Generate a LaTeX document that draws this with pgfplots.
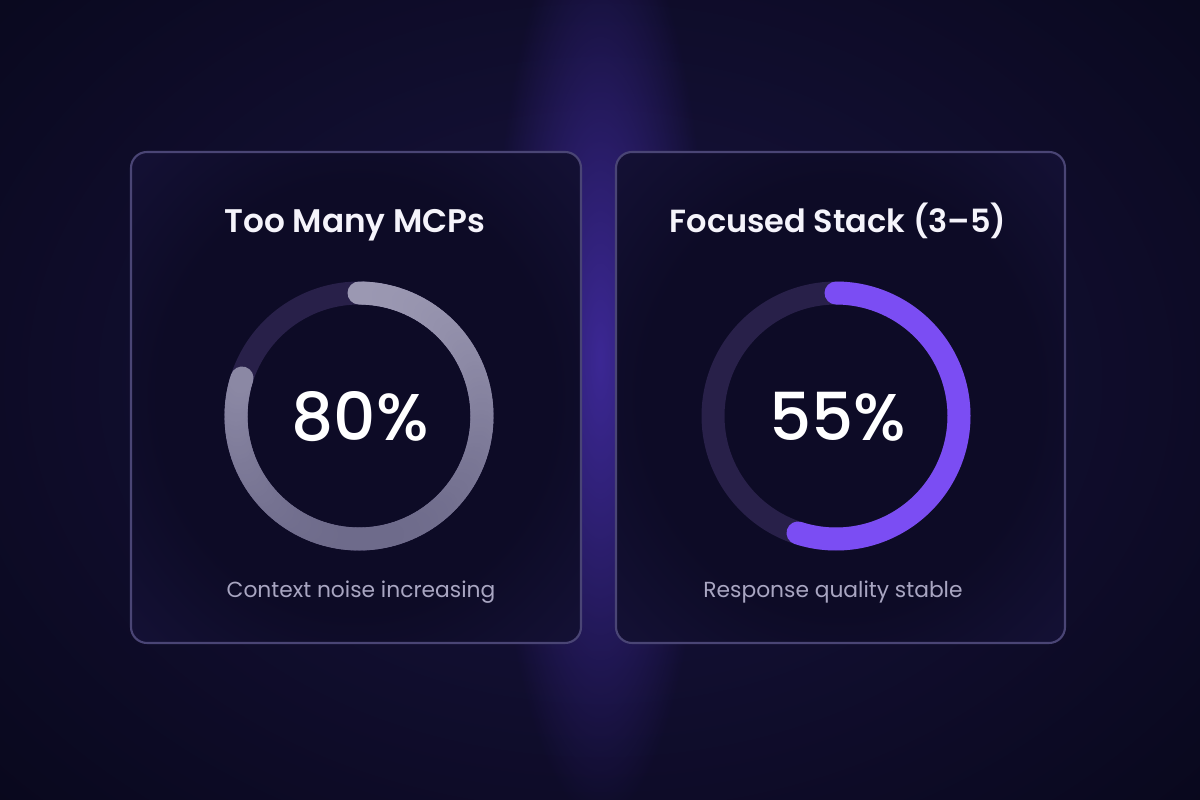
\documentclass[border=0pt]{standalone}
\usepackage{pgfplots}
\pgfplotsset{compat=1.18}
\usepackage{fontspec}
\setmainfont{Poppins}
\newfontfamily\titlefont{Poppins SemiBold}
\newfontfamily\numfont{Poppins Medium}
\usetikzlibrary{fadings}
\tikzfading[name=glowfade, inner color=transparent!0, outer color=transparent!100]
\definecolor{bg}{HTML}{060616}
\definecolor{glowA}{HTML}{191440}
\definecolor{glowB}{HTML}{3E2999}
\definecolor{cardin}{HTML}{0D0B26}
\definecolor{cardout}{HTML}{1C1746}
\definecolor{cardedge}{HTML}{4A4575}
\definecolor{track}{HTML}{282049}
\definecolor{greytop}{HTML}{9B98B2}
\definecolor{greybot}{HTML}{6E6B8B}
\definecolor{purplearc}{HTML}{7B4DF3}
\definecolor{subtext}{HTML}{A9A6C2}
\definecolor{titletext}{HTML}{F5F4FB}
\pgfdeclareradialshading{cardshade}{\pgfpoint{0bp}{0bp}}{color(0bp)=(cardin); color(22bp)=(cardin); color(50bp)=(cardout); color(72bp)=(cardout)}
% gauge values (percent)
\def\valA{80}
\def\valB{55}
\begin{document}
\begin{tikzpicture}
\fill[bg] (0,0) rectangle (12,8);
\begin{scope}
\clip (0,0) rectangle (12,8);
\fill[glowA, path fading=glowfade] (6,4.2) ellipse [x radius=10cm, y radius=7.5cm];
\fill[glowB, path fading=glowfade, opacity=0.95] (6,4.4) ellipse [x radius=1.1cm, y radius=4.6cm];
\end{scope}
% cards
\shade[shading=cardshade, rounded corners=0.16cm] (1.31,1.57) rectangle (5.81,6.48);
\shade[shading=cardshade, rounded corners=0.16cm] (6.16,1.57) rectangle (10.65,6.48);
\draw[cardedge, line width=0.6pt, rounded corners=0.16cm] (1.31,1.57) rectangle (5.81,6.48);
\draw[cardedge, line width=0.6pt, rounded corners=0.16cm] (6.16,1.57) rectangle (10.65,6.48);
\begin{axis}[at={(0,0)}, anchor=south west, width=12cm, height=8cm, scale only axis,
  xmin=0, xmax=1200, ymin=0, ymax=800, y dir=reverse, hide axis, clip=false,
  colormap={greymap}{color=(greytop) color=(greybot)}]
% left gauge
\addplot[track, line width=0.23cm, samples=181, domain=0:360, smooth] ({359+123*sin(x)}, {416-123*cos(x)});
\addplot[mesh, point meta=y, line width=0.23cm, line cap=round, samples=150, domain=0:{3.6*\valA}] ({359+123*sin(x)}, {416-123*cos(x)});
% right gauge
\addplot[track, line width=0.23cm, samples=181, domain=0:360, smooth] ({836+123*sin(x)}, {416-123*cos(x)});
\addplot[purplearc, line width=0.23cm, line cap=round, samples=120, domain=0:{3.6*\valB}, smooth] ({836+123*sin(x)}, {416-123*cos(x)});
% texts
\node[anchor=base, text=titletext, font=\titlefont\fontsize{9.3}{10}\selectfont] at (axis cs:355,232) {Too Many MCPs};
\node[anchor=base, text=titletext, font=\titlefont\fontsize{9.1}{10}\selectfont] at (axis cs:838,232) {Focused Stack (3–5)};
\node[anchor=base, text=white, font=\numfont\fontsize{18.8}{20}\selectfont] at (axis cs:360,440) {80\%};
\node[anchor=base, text=white, font=\numfont\fontsize{18.8}{20}\selectfont] at (axis cs:838,440) {55\%};
\node[anchor=base, text=subtext, font=\fontsize{6.2}{7}\selectfont] at (axis cs:361,597) {Context noise increasing};
\node[anchor=base, text=subtext, font=\fontsize{6.2}{7}\selectfont] at (axis cs:833,597) {Response quality stable};
\end{axis}
\pgfresetboundingbox
\path (0,0) rectangle (12,8);
\end{tikzpicture}
\end{document}
